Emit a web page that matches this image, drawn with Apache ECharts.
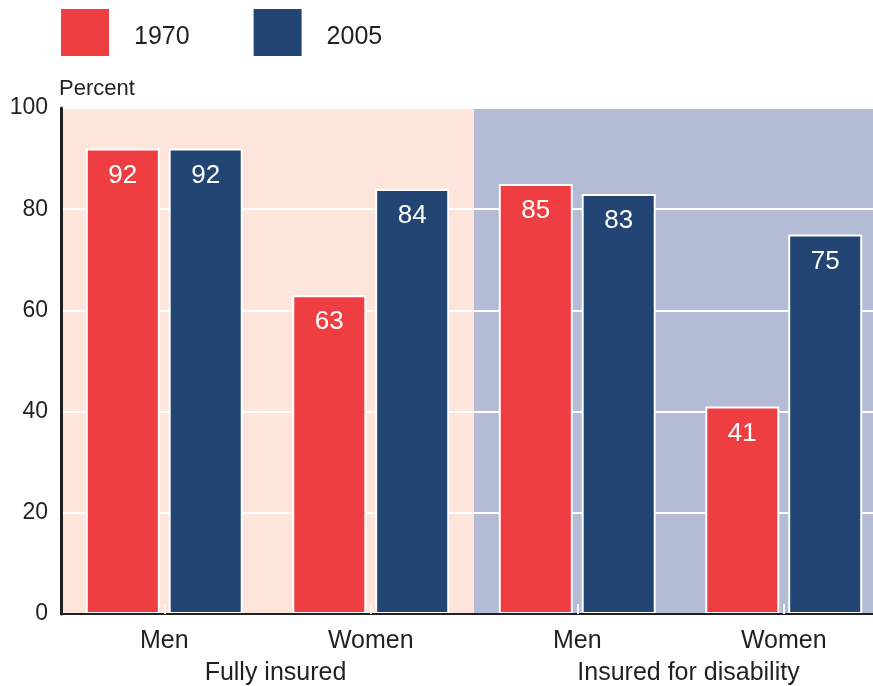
<!DOCTYPE html>
<html lang="en">
<head>
    <meta charset="UTF-8">
    <title>Insured status</title>
    <script src="https://cdn.jsdelivr.net/npm/echarts@6/dist/echarts.min.js"></script>
    <style>
        html, body { margin: 0; padding: 0; background: #fff; }
        #main { width: 873px; height: 686px; }
    </style>
</head>
<body>
<div id="main"></div>
<script type="text/javascript">
    var categories = ['Men', 'Women', 'Men', 'Women'];
    var groups = ['Fully insured', 'Insured for disability'];
    var values1970 = [92, 63, 85, 41];
    var values2005 = [92, 84, 83, 75];
    var groupTop = [100, 100];
    var yTicks = [0, 20, 40, 60, 80, 100];

    var font = 'Liberation Sans, Arial, sans-serif';
    var ink = '#231f20';
    var red = '#ef3e42';
    var navy = '#224573';
    var bgColors = ['#fde5dc', '#b3bbd5'];

    var myChart = echarts.init(document.getElementById('main'));

    var barLabel = {
        show: true,
        position: 'insideTop',
        distance: 14,
        color: '#fff',
        fontSize: 26,
        fontFamily: font
    };

    var option = {
        animation: false,
        textStyle: { fontFamily: font, color: ink },
        legend: {
            left: 59,
            top: 7,
            padding: 0,
            itemWidth: 50,
            itemHeight: 49,
            itemGap: 62,
            icon: 'rect',
            formatter: '{t|{name}}',
            textStyle: {
                fontSize: 25, color: ink, padding: [0, 0, 0, 19],
                rich: { t: { fontSize: 25, color: ink, fontFamily: font, padding: [10, 0, 0, 0] } }
            },
            data: ['1970', '2005']
        },
        // plot is wider than the canvas: the right edge is cut off in the original
        grid: { left: 61, width: 826, top: 108, bottom: 72, outerBoundsMode: 'none', containLabel: false },
        xAxis: [{
            type: 'category',
            data: categories,
            axisLine: { lineStyle: { color: ink, width: 2 } },
            axisTick: { show: true, alignWithLabel: true, inside: true, length: 10, lineStyle: { color: '#fff', width: 2 } },
            axisLabel: { fontSize: 25, color: ink, margin: 15 },
            z: 3
        }, {
            type: 'category',
            data: groups,
            position: 'bottom',
            axisLine: { show: false },
            axisTick: { show: false },
            axisLabel: { fontSize: 25, color: ink, margin: 47, padding: [0, 0, 0, 16] }
        }],
        yAxis: {
            type: 'value',
            min: 0,
            max: 100,
            interval: 20,
            name: 'Percent',
            nameLocation: 'end',
            nameGap: 8,
            nameTextStyle: { fontSize: 22, color: ink, align: 'left', padding: [0, 0, 0, -2] },
            axisLine: { show: true, lineStyle: { color: ink, width: 3 } },
            axisTick: { show: false },
            axisLabel: {
                fontSize: 23, color: ink, margin: 13,
                formatter: function (v) { return yTicks.indexOf(v) >= 0 ? v : ''; }
            },
            splitLine: { show: true, lineStyle: { color: '#fff', width: 2 } },
            z: 1
        },
        series: [{
            name: 'background',
            type: 'bar',
            xAxisIndex: 1,
            barWidth: '100%',
            silent: true,
            z: 0,
            data: groupTop.map(function (v, i) {
                return { value: v, itemStyle: { color: bgColors[i] } };
            })
        }, {
            name: '1970',
            type: 'bar',
            xAxisIndex: 0,
            barGap: '12%',
            barCategoryGap: '24%',
            itemStyle: { color: red, borderColor: '#fff', borderWidth: 2 },
            label: barLabel,
            data: values1970,
            z: 2
        }, {
            name: '2005',
            type: 'bar',
            xAxisIndex: 0,
            barGap: '12%',
            barCategoryGap: '24%',
            itemStyle: { color: navy, borderColor: '#fff', borderWidth: 2 },
            label: barLabel,
            data: values2005,
            z: 2
        }]
    };
    myChart.setOption(option);
</script>
</body>
</html>
